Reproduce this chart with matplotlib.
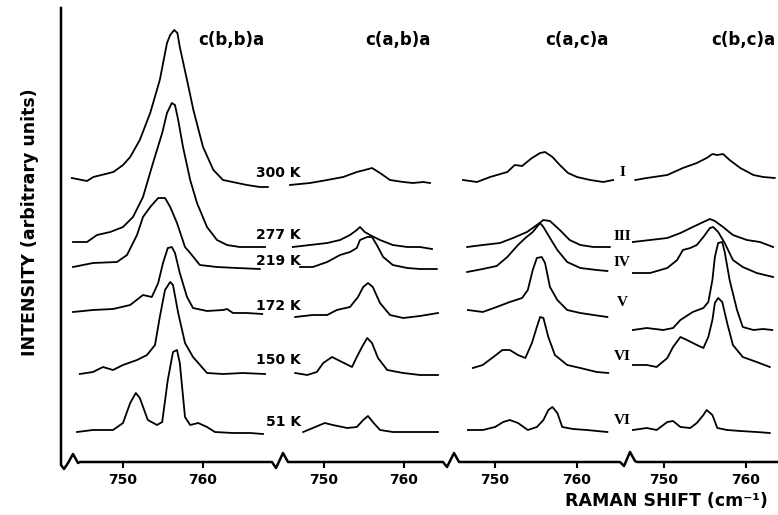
import matplotlib
matplotlib.use("Agg")
import matplotlib.pyplot as plt
from matplotlib.lines import Line2D

# ---------------- data (Raman shift in cm^-1, intensity in arbitrary units, stacked) -------------
panel_titles = ["c(b,b)a", "c(a,b)a", "c(a,c)a", "c(b,c)a"]
temps = ["300 K", "277 K", "219 K", "172 K", "150 K", "51 K"]
phases = ["I", "III", "IV", "V", "VI", "VI"]
tick_values = [750, 760]
tick_labels = ["750", "760"]

# panel 1: c(b,b)a  (300, 277, 219, 172, 150, 51 K)
bb_x = [
    [743.6, 745.5, 746.3, 748.8, 750.0, 750.9, 752.1, 753.4, 754.6, 755.5, 755.9, 756.4, 756.8, 757.1, 758.0, 758.8, 760.0, 761.3, 762.5, 764.3, 765.5, 767.1, 768.1],
    [743.75, 745.5, 746.75, 748.4, 750.0, 751.25, 752.5, 753.75, 754.9, 755.5, 756.1, 756.5, 756.9, 757.5, 758.4, 759.25, 760.5, 761.75, 763.0, 764.6, 766.25, 767.75],
    [743.75, 746.25, 749.25, 750.5, 751.75, 752.5, 753.4, 754.4, 755.25, 755.9, 756.75, 757.75, 758.4, 759.6, 761.75, 764.25, 767.1],
    [743.75, 746.25, 748.75, 750.9, 752.5, 753.6, 754.4, 755.0, 755.6, 756.1, 756.5, 757.1, 758.0, 758.75, 760.5, 762.5, 763.0, 763.75, 765.5, 767.4],
    [744.6, 746.25, 747.5, 748.75, 750.0, 751.75, 753.0, 754.0, 754.6, 755.25, 755.9, 756.25, 756.9, 757.75, 758.75, 760.5, 762.5, 765.0, 767.75],
    [744.25, 746.25, 748.75, 750.0, 750.9, 751.6, 752.1, 753.1, 754.25, 754.9, 755.6, 756.25, 756.75, 757.1, 757.75, 758.4, 759.4, 760.5, 761.5, 763.75, 765.9, 767.5],
]
bb_y = [
    [284, 281, 285, 290, 297, 305, 322, 349, 382, 419, 427, 432, 429, 415, 382, 352, 315, 292, 282, 279, 277, 275, 275],
    [220, 220, 227, 230, 235, 245, 265, 299, 329, 349, 359, 357, 342, 315, 282, 259, 235, 222, 217, 215, 215, 215],
    [195, 199, 200, 207, 227, 245, 255, 264, 264, 255, 239, 215, 209, 197, 195, 194, 193],
    [150, 152, 153, 157, 167, 165, 179, 199, 214, 215, 209, 189, 165, 154, 151, 152, 153, 149, 149, 148],
    [88, 90, 95, 92, 97, 102, 107, 117, 145, 172, 180, 177, 149, 119, 105, 89, 88, 89, 88],
    [30, 32, 32, 39, 59, 69, 64, 42, 37, 40, 82, 110, 112, 99, 45, 37, 39, 35, 30, 29, 29, 28],
]

# panel 2: c(a,b)a
ab_x = [
    [745.75, 748.25, 750.4, 752.4, 754.1, 755.1, 756.0, 757.0, 758.25, 759.9, 761.1, 762.4, 763.25],
    [746.1, 748.25, 750.4, 752.0, 753.25, 754.1, 754.5, 755.1, 755.75, 757.0, 758.6, 760.4, 762.0, 763.5],
    [747.0, 748.6, 750.4, 752.0, 753.25, 754.1, 754.5, 755.4, 756.0, 756.6, 757.4, 758.6, 760.4, 762.0, 764.1],
    [746.4, 748.6, 750.4, 751.6, 753.25, 754.25, 754.9, 755.5, 756.1, 757.0, 758.25, 759.9, 762.0, 764.25],
    [746.4, 747.9, 749.1, 749.9, 751.0, 752.0, 753.5, 754.1, 754.75, 755.4, 756.0, 756.75, 757.9, 759.9, 762.0, 764.25],
    [747.4, 748.6, 750.1, 751.1, 752.9, 754.1, 754.9, 755.5, 756.1, 757.0, 758.6, 760.75, 764.25],
]
ab_y = [
    [277, 279, 282, 285, 290, 292, 294, 289, 282, 280, 279, 280, 279],
    [215, 217, 219, 222, 227, 232, 235, 230, 227, 222, 217, 215, 215, 213],
    [195, 195, 200, 207, 210, 214, 222, 225, 225, 217, 205, 197, 194, 193, 193],
    [145, 147, 147, 152, 155, 165, 175, 179, 175, 159, 147, 144, 146, 149],
    [89, 87, 90, 99, 105, 101, 95, 105, 115, 124, 119, 104, 92, 89, 87, 87],
    [30, 34, 39, 37, 34, 35, 42, 46, 40, 32, 30, 30, 30],
]

# panel 3: c(a,c)a  (phases I, III, IV, V, VI, VI)
ac_x = [
    [746.1, 747.8, 749.4, 751.5, 752.4, 753.3, 754.5, 755.5, 756.1, 757.0, 757.9, 758.9, 760.0, 761.6, 763.2, 764.4],
    [746.6, 748.5, 750.6, 752.2, 753.9, 755.1, 755.9, 756.7, 757.9, 759.1, 760.4, 762.0, 764.0],
    [746.6, 748.5, 750.2, 751.5, 752.8, 753.7, 754.6, 755.5, 755.9, 756.7, 757.6, 758.8, 760.4, 762.4, 763.7],
    [746.7, 748.5, 750.2, 751.8, 753.3, 754.0, 754.6, 755.1, 755.7, 756.1, 756.7, 757.6, 758.8, 760.4, 762.0, 763.7],
    [747.3, 748.5, 749.8, 750.9, 751.8, 752.8, 753.7, 754.5, 755.1, 755.5, 755.9, 756.5, 757.3, 758.8, 760.4, 762.4, 763.8],
    [746.7, 748.5, 750.0, 751.0, 751.8, 752.8, 754.0, 755.1, 755.9, 756.5, 757.0, 757.6, 758.2, 759.5, 761.2, 763.7],
]
ac_y = [
    [282, 280, 285, 290, 297, 296, 304, 309, 310, 305, 297, 289, 285, 282, 280, 282],
    [215, 217, 219, 224, 230, 237, 242, 241, 232, 222, 217, 215, 215],
    [190, 193, 196, 205, 217, 224, 230, 239, 235, 224, 212, 200, 194, 192, 191],
    [152, 150, 155, 160, 164, 172, 192, 204, 205, 199, 175, 162, 152, 149, 147, 145],
    [94, 97, 105, 112, 112, 107, 104, 119, 135, 145, 144, 125, 107, 97, 94, 90, 89],
    [32, 32, 35, 40, 42, 39, 32, 35, 42, 52, 55, 49, 35, 33, 32, 30],
]

# panel 4: c(b,c)a
bc_x = [
    [746.5, 747.9, 750.4, 752.3, 754.0, 755.2, 755.9, 756.5, 757.2, 758.0, 759.3, 760.9, 762.1, 763.5],
    [746.2, 748.3, 750.4, 752.0, 753.5, 754.8, 755.6, 756.2, 757.2, 758.4, 760.1, 761.7, 763.3],
    [746.2, 748.3, 750.4, 751.6, 752.3, 753.2, 754.0, 754.8, 755.6, 756.0, 756.6, 757.4, 758.4, 759.6, 761.3, 763.3],
    [746.2, 747.9, 749.9, 751.1, 752.0, 753.5, 754.8, 755.4, 755.9, 756.2, 756.6, 757.1, 757.4, 758.0, 758.9, 759.6, 760.9, 762.1, 763.2],
    [746.2, 747.9, 749.1, 750.4, 751.1, 752.0, 752.8, 754.0, 754.8, 755.4, 755.9, 756.2, 756.6, 757.1, 757.7, 758.4, 759.6, 761.3, 762.9],
    [746.2, 747.9, 749.1, 750.4, 751.1, 752.0, 753.2, 754.0, 754.8, 755.2, 755.9, 756.5, 757.7, 759.3, 761.3, 762.9],
]
bc_y = [
    [282, 284, 287, 294, 299, 304, 308, 307, 308, 302, 294, 287, 285, 284],
    [220, 222, 224, 229, 235, 240, 243, 241, 235, 227, 222, 220, 215],
    [189, 189, 194, 202, 212, 214, 217, 225, 234, 235, 230, 219, 202, 195, 189, 185],
    [132, 134, 132, 134, 142, 150, 154, 160, 182, 205, 219, 220, 210, 182, 152, 135, 132, 133, 132],
    [97, 97, 95, 104, 115, 125, 122, 117, 114, 125, 142, 159, 164, 160, 139, 117, 105, 100, 95],
    [32, 34, 32, 40, 41, 35, 34, 39, 47, 52, 47, 34, 32, 31, 30, 29],
]

# ---------------- layout ----------------
W, H = 778, 515
fig = plt.figure(figsize=(W / 100, H / 100), dpi=100)
fig.patch.set_facecolor("white")

def fx(px):
    return px / W

def fy(py):
    return 1 - py / H

AX_TOP, AX_BOT = 10, 462
panel_px = [(61, 275), (283, 447), (455, 625), (630, 778)]
panel_xlim = [(742.25, 769.0), (744.875, 765.375), (745.12, 765.85), (745.85, 763.9)]
panel_data = [(bb_x, bb_y), (ab_x, ab_y), (ac_x, ac_y), (bc_x, bc_y)]

BOLD = dict(family="DejaVu Sans", fontweight="bold")

for (l, r), xl, (xs, ys) in zip(panel_px, panel_xlim, panel_data):
    ax = fig.add_axes([fx(l), fy(AX_BOT), (r - l) / W, (AX_BOT - AX_TOP) / H])
    ax.set_xlim(*xl)
    ax.set_ylim(0, AX_BOT - AX_TOP)
    ax.patch.set_alpha(0)
    for s in ax.spines.values():
        s.set_visible(False)
    ax.set_yticks([])
    ax.set_xticks(tick_values)
    ax.set_xticklabels(tick_labels, fontsize=10, **BOLD)
    ax.tick_params(axis="x", direction="out", length=4, width=1.5, pad=4, color="black")
    for x, y in zip(xs, ys):
        ax.plot(x, y, color="black", lw=1.3, clip_on=False, solid_joinstyle="round")

# axis frame: left spine + broken bottom axis with zigzag breaks
frame = [(61, 8), (61, 465), (64, 469), (68, 463), (73, 454), (78, 463), (80, 462),
         (272, 462), (276, 468), (283, 453), (288, 462),
         (443, 462), (447, 467), (454, 453), (459, 462),
         (620, 462), (624, 466), (630, 452), (635, 461), (637, 462), (778, 462)]
fig.add_artist(Line2D([fx(p[0]) for p in frame], [fy(p[1]) for p in frame],
                      transform=fig.transFigure, color="black", lw=1.8,
                      solid_joinstyle="round"))

# panel titles
for t, cx in zip(panel_titles, [231, 398, 577, 743]):
    fig.text(fx(cx), fy(40), t, ha="center", va="center", fontsize=12, **BOLD)

# temperature labels
for t, py in zip(temps, [173, 235, 261, 306, 360, 422]):
    fig.text(fx(301), fy(py), t, ha="right", va="center", fontsize=10, **BOLD)

# phase labels
for t, py in zip(phases, [172, 236, 263, 302, 357, 420]):
    fig.text(fx(622), fy(py), t, ha="center", va="center", fontsize=11,
             family="Liberation Serif", fontweight="bold")

fig.text(fx(666), fy(501), "RAMAN SHIFT (cm\u207b\u00b9)", ha="center", va="center",
         fontsize=12.5, **BOLD)
fig.text(fx(30), fy(222), "INTENSITY (arbitrary units)", ha="center", va="center",
         rotation=90, fontsize=12.5, **BOLD)

fig.savefig("out.png", dpi=100, facecolor="white")
